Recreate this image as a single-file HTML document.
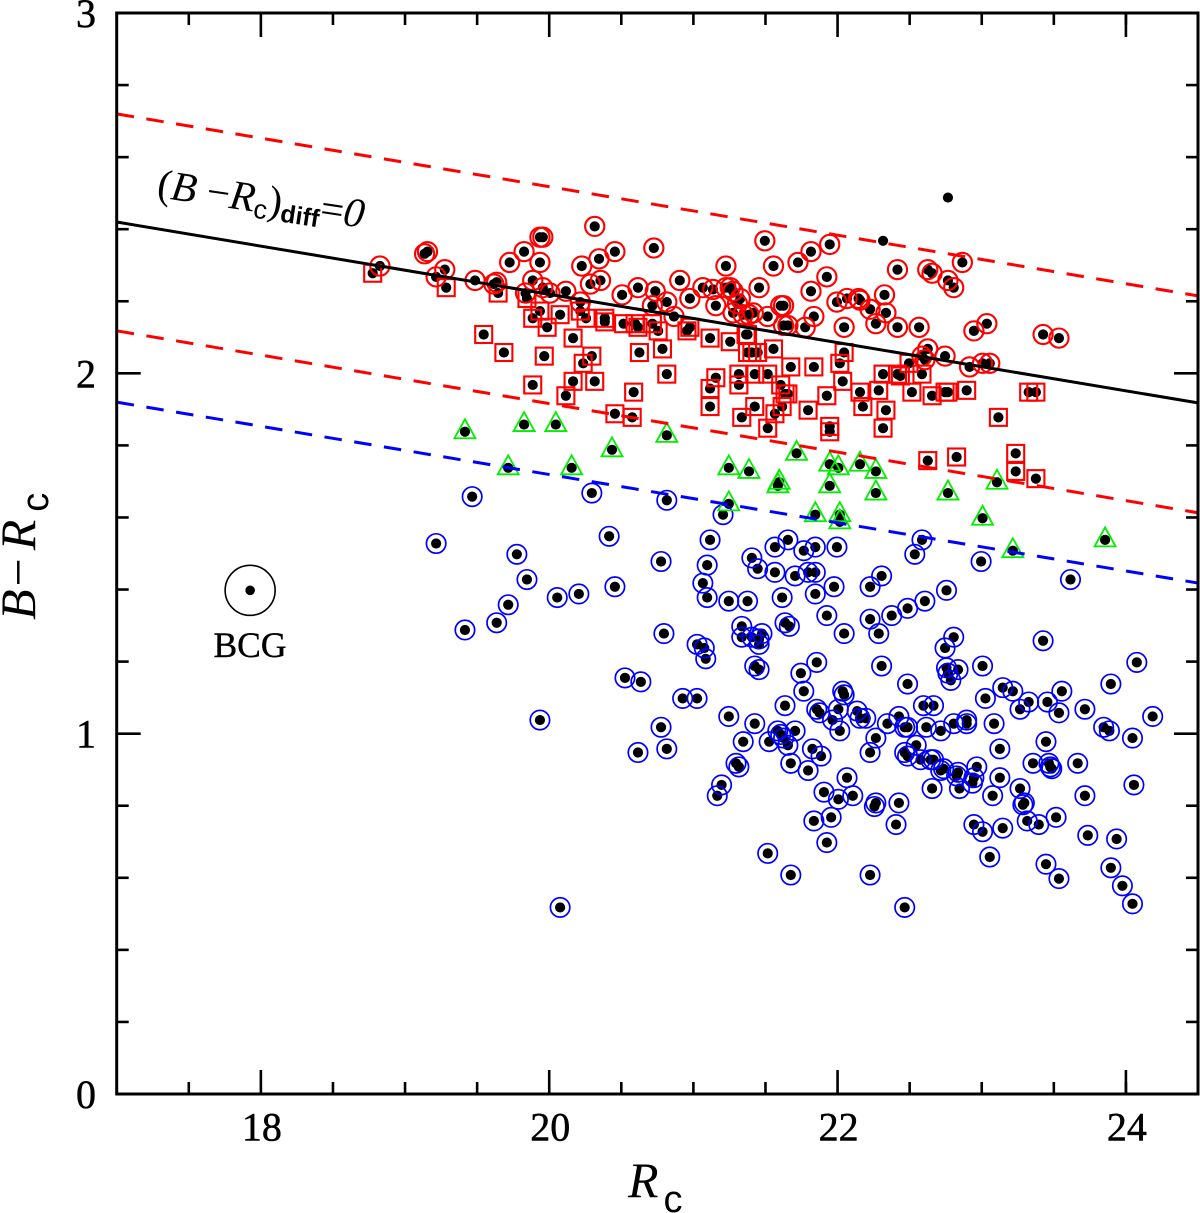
<!DOCTYPE html>
<html lang="en">
<head>
<meta charset="utf-8">
<title>Colour-magnitude diagram</title>
<style>
html,body{margin:0;padding:0;background:#fff;}
svg{display:block;font-family:"Liberation Serif",serif;}
</style>
</head>
<body>
<svg id="chart" xmlns="http://www.w3.org/2000/svg" width="1200" height="1213" viewBox="0 0 1200 1213"></svg>
<script>
const redCircles = [[18.82,2.30],[19.13,2.334],[19.15,2.34],[19.21,2.27],[19.27,2.29],[19.48,2.26],[19.61,2.25],[19.63,2.255],[19.72,2.31],[19.82,2.34],[19.93,2.31],[19.93,2.38],[19.95,2.38],[20.31,2.41],[20.22,2.30],[20.34,2.32],[20.45,2.34],[20.72,2.35],[19.88,2.26],[19.83,2.225],[19.95,2.24],[20.0,2.225],[20.11,2.23],[20.21,2.2],[20.28,2.25],[20.35,2.26],[20.5,2.22],[20.61,2.24],[20.73,2.23],[20.81,2.2],[20.71,2.19],[20.86,2.16],[20.9,2.26],[20.97,2.21],[21.06,2.24],[21.13,2.235],[21.15,2.19],[21.22,2.30],[21.22,2.24],[21.25,2.24],[21.27,2.23],[21.32,2.21],[21.27,2.17],[21.3,2.195],[21.34,2.165],[21.38,2.165],[21.41,2.17],[21.49,2.37],[21.55,2.30],[21.72,2.31],[21.81,2.34],[21.94,2.36],[21.45,2.24],[21.92,2.27],[21.81,2.23],[21.6,2.19],[21.62,2.19],[21.51,2.16],[21.83,2.16],[21.62,2.135],[21.65,2.135],[21.77,2.13],[22.04,2.13],[21.99,2.2],[22.06,2.21],[22.14,2.21],[22.15,2.205],[22.22,2.18],[22.32,2.22],[22.33,2.17],[22.26,2.14],[22.41,2.13],[22.56,2.13],[22.41,2.29],[22.62,2.29],[22.65,2.28],[22.76,2.26],[22.8,2.24],[22.86,2.31],[22.94,2.12],[23.03,2.14],[23.42,2.11],[23.53,2.10],[22.62,2.07],[22.74,2.05],[22.58,2.05],[22.6,2.04],[22.91,2.02],[23.0,2.03],[23.05,2.03]];
const redSquares = [[18.77,2.28],[19.28,2.24],[19.64,2.225],[19.54,2.11],[19.68,2.06],[19.88,2.155],[19.84,2.21],[19.98,2.13],[19.96,2.05],[19.93,2.175],[20.07,2.165],[20.16,2.10],[20.29,2.05],[20.23,2.03],[19.88,1.97],[20.16,1.98],[20.31,1.98],[20.11,1.94],[20.58,1.95],[20.45,1.89],[20.57,1.88],[20.62,2.06],[20.78,2.07],[20.81,2.0],[20.21,2.175],[20.25,2.155],[20.38,2.155],[20.38,2.145],[20.51,2.14],[20.59,2.14],[20.61,2.13],[20.71,2.14],[20.75,2.12],[20.95,2.12],[20.97,2.13],[21.11,2.1],[21.25,2.09],[21.37,2.11],[21.37,2.06],[21.15,1.99],[21.31,2.0],[21.31,1.97],[21.11,1.96],[21.11,1.91],[21.33,1.88],[21.36,2.11],[21.4,2.06],[21.44,2.06],[21.55,2.07],[21.42,2.0],[21.51,2.0],[21.67,2.02],[21.83,2.02],[22.04,2.06],[22.01,2.03],[22.03,1.98],[21.6,1.97],[21.65,1.945],[21.63,1.945],[21.61,1.91],[21.56,1.89],[21.42,1.91],[21.51,1.85],[21.79,1.9],[21.92,1.94],[21.94,1.855],[21.94,1.84],[22.15,1.95],[22.17,1.91],[22.33,1.9],[22.31,1.85],[22.28,1.955],[22.31,2.0],[22.41,2.0],[22.43,1.995],[22.51,1.95],[22.49,2.03],[22.58,2.0],[22.65,1.94],[22.74,1.95],[22.76,1.95],[22.89,1.955],[23.11,1.88],[23.32,1.95],[23.37,1.95],[22.62,1.76],[22.82,1.77],[23.23,1.78],[23.23,1.73],[23.37,1.71]];
const greenTriangles = [[19.41,1.84],[19.82,1.86],[20.04,1.86],[20.81,1.83],[20.43,1.79],[19.71,1.74],[20.15,1.74],[21.24,1.74],[21.38,1.73],[21.71,1.78],[21.59,1.70],[21.58,1.69],[21.24,1.64],[21.84,1.61],[21.94,1.75],[22.0,1.74],[22.15,1.75],[22.26,1.73],[21.94,1.69],[22.26,1.67],[22.76,1.67],[23.1,1.70],[23.0,1.6],[23.85,1.54],[23.21,1.51],[22.01,1.61],[22.01,1.59]];
const blueCircles = [[19.46,1.66],[20.29,1.67],[20.81,1.65],[21.2,1.61],[19.21,1.53],[20.41,1.55],[19.77,1.5],[20.77,1.48],[19.84,1.43],[20.45,1.41],[20.05,1.38],[20.2,1.39],[19.71,1.36],[19.63,1.31],[19.41,1.29],[20.79,1.28],[21.11,1.54],[21.09,1.47],[21.06,1.42],[21.09,1.38],[21.24,1.37],[21.37,1.37],[21.4,1.49],[21.44,1.46],[21.56,1.52],[21.65,1.54],[21.76,1.51],[21.84,1.52],[21.56,1.45],[21.7,1.44],[21.79,1.45],[21.84,1.45],[21.61,1.38],[21.84,1.39],[21.33,1.3],[21.33,1.27],[21.4,1.27],[21.45,1.25],[21.47,1.28],[21.45,1.265],[21.63,1.31],[21.66,1.3],[21.85,1.2],[21.74,1.17],[21.76,1.12],[21.02,1.25],[21.07,1.24],[21.08,1.21],[21.42,1.19],[21.45,1.18],[20.52,1.157],[20.63,1.146],[20.92,1.1],[21.02,1.1],[20.77,1.02],[20.81,0.96],[20.61,0.95],[21.24,1.05],[21.42,1.03],[21.34,0.98],[21.29,0.92],[21.31,0.91],[21.19,0.86],[21.16,0.83],[21.58,1.01],[21.52,0.98],[21.7,1.01],[21.6,1.0],[21.62,0.99],[21.65,0.97],[21.67,0.92],[21.82,0.96],[21.88,0.94],[21.79,0.9],[22.06,0.88],[21.9,0.84],[22.1,0.83],[22.0,0.82],[21.95,0.77],[21.83,0.76],[21.92,0.7],[21.51,0.67],[21.67,0.61],[22.22,0.61],[21.63,1.08],[22.3,1.19],[21.85,1.07],[21.87,1.06],[21.96,1.04],[22.01,1.01],[22.0,1.07],[22.03,1.12],[22.04,1.11],[22.13,1.065],[22.15,1.045],[22.19,1.045],[22.34,1.03],[22.26,0.99],[22.22,0.95],[22.26,0.81],[22.25,0.8],[22.42,0.81],[22.4,0.75],[22.48,1.14],[22.59,1.08],[22.66,1.08],[22.42,1.05],[22.46,1.02],[22.48,1.02],[22.61,1.02],[22.71,1.01],[22.8,1.03],[22.89,1.04],[22.89,1.03],[22.54,0.97],[22.46,0.95],[22.48,0.94],[22.57,0.93],[22.64,0.93],[22.66,0.93],[22.71,0.9],[22.73,0.905],[22.83,0.895],[22.82,0.885],[22.96,0.91],[22.93,0.865],[22.94,0.88],[22.65,0.85],[22.84,0.85],[23.12,0.88],[23.07,0.83],[23.26,0.85],[23.29,0.81],[23.28,0.805],[23.31,0.76],[23.39,0.75],[23.51,0.77],[22.94,0.75],[23.0,0.73],[23.14,0.74],[23.05,0.66],[23.44,0.64],[23.53,0.6],[23.73,0.72],[23.93,0.71],[23.89,0.63],[23.97,0.58],[24.04,0.53],[22.46,0.52],[23.71,0.83],[24.05,0.86],[23.66,0.92],[23.35,0.92],[23.44,0.98],[23.47,0.91],[23.48,0.905],[23.46,0.92],[23.12,0.96],[23.08,1.03],[23.02,1.1],[23.14,1.13],[23.21,1.12],[23.26,1.07],[23.32,1.09],[23.45,1.09],[23.55,1.12],[23.53,1.06],[23.71,1.07],[23.84,1.02],[23.88,1.01],[24.04,0.99],[23.89,1.14],[24.07,1.2],[24.18,1.05],[23.0,1.19],[22.76,1.17],[22.83,1.18],[22.78,1.15],[22.75,1.185],[21.99,1.52],[21.97,1.41],[21.92,1.33],[22.04,1.28],[22.22,1.41],[22.3,1.44],[22.22,1.32],[22.37,1.33],[22.28,1.28],[22.48,1.35],[22.6,1.37],[22.75,1.4],[22.53,1.5],[22.58,1.54],[22.99,1.48],[23.61,1.43],[22.8,1.27],[22.74,1.24],[23.42,1.26],[19.93,1.04],[20.07,0.52]];
const plainDots = [[22.76,2.49],[22.31,2.37]];
const bcgPoint = [17.92,1.40];
const xMajorTicks = [18,20,22,24];
const xMinorTicks = [17.5,18.5,19,19.5,20.5,21,21.5,22.5,23,23.5,24];
const yMajorTicks = [0,1,2,3];
const yMinorTicks = [0.2,0.4,0.6,0.8,1.2,1.4,1.6,1.8,2.2,2.4,2.6,2.8];
const xRange = [17,24.5];
const yRange = [0,3];
const redUpperLine = [[17,2.72],[24.5,2.215]];
const sequenceLine = [[17,2.42],[24.5,1.918]];
const redLowerLine = [[17,2.118],[24.5,1.613]];
const blueLine = [[17,1.92],[24.5,1.418]];

const NS = 'http://www.w3.org/2000/svg';
const svg = document.getElementById('chart');
const plot = {l:116.7, r:1198, t:13, b:1094};
function sx(v){return plot.l + (v - xRange[0]) * (plot.r - plot.l) / (xRange[1] - xRange[0]);}
function sy(v){return plot.b - (v - yRange[0]) * (plot.b - plot.t) / (yRange[1] - yRange[0]);}
function make(tag, attrs){
  const el = document.createElementNS(NS, tag);
  for (const k in attrs) el.setAttribute(k, attrs[k]);
  return el;
}
function group(name, shifted){
  const g = make('g', shifted ? {transform:'translate(0.8,0.8)'} : {});
  
  
  svg.appendChild(g);
  return g;
}

// black dots below the markers
const dotLayer = group('galaxy-dots', true);
[redCircles, redSquares, greenTriangles, blueCircles, plainDots].forEach(function(series){
  series.forEach(function(p){
    const d = make('circle', {cx:sx(p[0]), cy:sy(p[1]), r:5.1, fill:'#000'});
    
    
    dotLayer.appendChild(d);
  });
});

const blueLayer = group('blue-circle-markers', true);
blueCircles.forEach(function(p){
  const m = make('circle', {cx:sx(p[0]), cy:sy(p[1]), r:9.7, fill:'none', stroke:'#0000ff', 'stroke-width':1.7});
  
  
  blueLayer.appendChild(m);
});

const triLayer = group('green-triangle-markers', true);
greenTriangles.forEach(function(p){
  const x = sx(p[0]), y = sy(p[1]);
  const m = make('polygon', {points:(x-10.5)+','+(y+6.5)+' '+(x+10.5)+','+(y+6.5)+' '+x+','+(y-12.5), fill:'none', stroke:'#00ee00', 'stroke-width':1.8});
  
  
  triLayer.appendChild(m);
});

const squareLayer = group('red-square-markers', true);
redSquares.forEach(function(p){
  const m = make('rect', {x:sx(p[0])-8.5, y:sy(p[1])-8.5, width:17, height:17, fill:'none', stroke:'#ff0000', 'stroke-width':2.1});
  
  
  squareLayer.appendChild(m);
});

const redLayer = group('red-circle-markers', true);
redCircles.forEach(function(p){
  const m = make('circle', {cx:sx(p[0]), cy:sy(p[1]), r:9.6, fill:'none', stroke:'#ff0000', 'stroke-width':2.1});
  
  
  redLayer.appendChild(m);
});

// reference lines
function addLine(pts, name, color, dash){
  const attrs = {x1:sx(pts[0][0]), y1:sy(pts[0][1]), x2:sx(pts[1][0]), y2:sy(pts[1][1]), stroke:color, 'stroke-width':3};
  if (dash) attrs['stroke-dasharray'] = '17.5 12.6';
  const l = make('line', attrs);
  
  
  svg.appendChild(l);
}
addLine(redUpperLine, 'upper-red-dashed-line', '#ff0000', true);
addLine(redLowerLine, 'lower-red-dashed-line', '#ff0000', true);
addLine(blueLine, 'blue-dashed-line', '#0000ff', true);
addLine(sequenceLine, 'red-sequence-line', '#000000', false);

// BCG marker
const bcgLayer = group('bcg-marker', true);
const bcgDot = make('circle', {cx:sx(bcgPoint[0]), cy:sy(bcgPoint[1]), r:4.8, fill:'#000'});


bcgLayer.appendChild(bcgDot);
const bcgRing = make('circle', {cx:sx(bcgPoint[0]), cy:sy(bcgPoint[1]), r:25, fill:'none', stroke:'#000', 'stroke-width':1.6});


bcgLayer.appendChild(bcgRing);

// frame and ticks
const axisLayer = group('axes', false);
const frame = make('rect', {x:plot.l, y:plot.t, width:plot.r-plot.l, height:plot.b-plot.t, fill:'none', stroke:'#000', 'stroke-width':3});


axisLayer.appendChild(frame);
function tickMark(x1,y1,x2,y2,name){
  const t = make('line', {x1:x1, y1:y1, x2:x2, y2:y2, stroke:'#000', 'stroke-width':2.6});
  
  
  axisLayer.appendChild(t);
}
xMajorTicks.forEach(function(v){
  tickMark(sx(v), plot.b, sx(v), plot.b-24, 'x-major-tick');
  tickMark(sx(v), plot.t, sx(v), plot.t+24, 'x-major-tick-top');
  const t = make('text', {x:sx(v)+1, y:1140.5, 'text-anchor':'middle', 'font-size':40, fill:'#000', stroke:'#000', 'stroke-width':0.5});
  t.textContent = String(v);
  
  
  axisLayer.appendChild(t);
});
xMinorTicks.forEach(function(v){
  tickMark(sx(v), plot.b, sx(v), plot.b-12, 'x-minor-tick');
  tickMark(sx(v), plot.t, sx(v), plot.t+12, 'x-minor-tick-top');
});
yMajorTicks.forEach(function(v){
  tickMark(plot.l, sy(v), plot.l+24, sy(v), 'y-major-tick');
  tickMark(plot.r, sy(v), plot.r-24, sy(v), 'y-major-tick-right');
  const t = make('text', {x:96, y:sy(v)+14, 'text-anchor':'end', 'font-size':40, fill:'#000', stroke:'#000', 'stroke-width':0.5});
  t.textContent = String(v);
  
  
  axisLayer.appendChild(t);
});
yMinorTicks.forEach(function(v){
  tickMark(plot.l, sy(v), plot.l+12, sy(v), 'y-minor-tick');
  tickMark(plot.r, sy(v), plot.r-12, sy(v), 'y-minor-tick-right');
});
</script>
<script>
(function(){
  const svg = document.getElementById('chart');
  svg.insertAdjacentHTML('beforeend',
    '<text x="250" y="657" text-anchor="middle" font-size="35.5" fill="#000" stroke="#000" stroke-width="0.4">BCG</text>' +
    '<text x="628" y="1197" font-size="50" fill="#000"><tspan font-style="italic">R</tspan><tspan font-size="38" dx="5" dy="15" font-family="Liberation Sans, sans-serif">c</tspan></text>' +
    '<text transform="translate(35,620) rotate(-90)" font-size="50" fill="#000"><tspan font-style="italic">B</tspan><tspan dx="3">−</tspan><tspan font-style="italic" dx="8">R</tspan><tspan font-size="38" dx="8" dy="13" font-family="Liberation Sans, sans-serif">c</tspan></text>' +
    '<text transform="translate(156,197) rotate(8.5)" font-size="41.5" fill="#000">(<tspan font-style="italic">B</tspan> −<tspan font-style="italic">R</tspan><tspan font-size="27" dy="6" font-family="Liberation Sans, sans-serif">c</tspan><tspan dy="-6">)</tspan><tspan font-size="25" dy="6" font-weight="bold" font-family="Liberation Sans, sans-serif">diff</tspan><tspan dy="-6">=</tspan><tspan font-style="italic">0</tspan></text>'
  );
})();
</script>
</body>
</html>
